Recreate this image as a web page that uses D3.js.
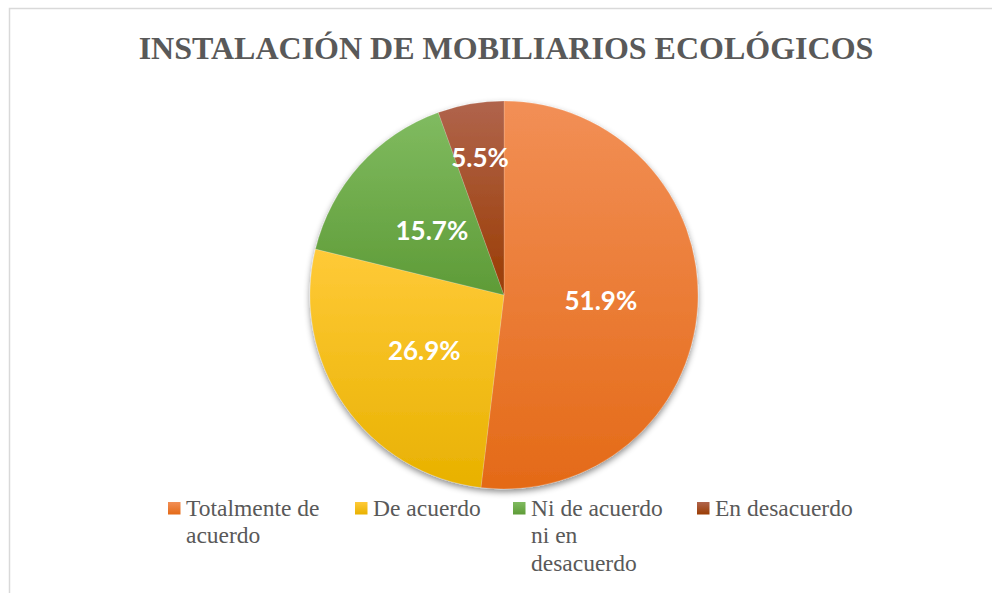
<!DOCTYPE html>
<html>
<head>
<meta charset="utf-8">
<script src="https://cdn.jsdelivr.net/npm/d3@7"></script>
<style>
  body { margin: 0; background: #fff; }
</style>
</head>
<body>
<svg id="chart" width="992" height="593"></svg>
<script>
let categories = ["Totalmente de acuerdo", "De acuerdo", "Ni de acuerdo ni en desacuerdo", "En desacuerdo"]
let values = [51.9, 26.9, 15.7, 5.5]
let legendLines = [["Totalmente de", "acuerdo"], ["De acuerdo"], ["Ni de acuerdo", "ni en", "desacuerdo"], ["En desacuerdo"]]
let colorsTop = ["#f28f56", "#ffca38", "#80bb60", "#b0644c"]
let colorsBottom = ["#e46a17", "#e8b100", "#5e9b37", "#9a3c03"]

let serifFont = "Liberation Serif"
let sansFont = "Lato"

let svg = d3.select("#chart")
let cx = 504, cy = 295, radius = 194

// chart frame
svg.append("rect")
  .attr("x", 9.5).attr("y", 8.5)
  .attr("width", 1000).attr("height", 1000)
  .attr("fill", "#fff")
  .attr("stroke", "#d9d9d9")
  .attr("stroke-width", 1.5)

let defs = svg.append("defs")

colorsTop.forEach((c, i) => {
  let g = defs.append("linearGradient")
    .attr("id", "grad" + i)
    .attr("x1", 0).attr("y1", 0).attr("x2", 0).attr("y2", 1)
  g.append("stop").attr("offset", "0%").attr("stop-color", c)
  g.append("stop").attr("offset", "100%").attr("stop-color", colorsBottom[i])
})

let shadow = defs.append("filter")
  .attr("id", "shadow")
  .attr("x", "-20%").attr("y", "-20%").attr("width", "140%").attr("height", "140%")
shadow.append("feDropShadow")
  .attr("dx", 0).attr("dy", 3)
  .attr("stdDeviation", 3)
  .attr("flood-color", "#000")
  .attr("flood-opacity", 0.45)

// title
svg.append("text")
  .style("font-family", serifFont)
  .attr("x", 506).attr("y", 59)
  .attr("text-anchor", "middle")
  .attr("font-weight", "bold")
  .attr("font-size", 32)
  .attr("fill", "#595959")
  .text("INSTALACIÓN DE MOBILIARIOS ECOLÓGICOS")

let pie = d3.pie().sort(null).value(d => d)
let arc = d3.arc().innerRadius(0).outerRadius(radius)

let pieG = svg.append("g")
  .attr("transform", `translate(${cx},${cy})`)

let arcs = pie(values)

let sliceG = pieG.append("g").attr("filter", "url(#shadow)")

sliceG.selectAll("path.slice")
  .data(arcs)
  .enter()
  .append("path")
  .attr("class", "slice")
  .attr("d", arc)
  .attr("fill", (d, i) => "url(#grad" + i + ")")
  .attr("stroke", "rgba(255,255,255,0.25)")
  .attr("stroke-width", 0.7)

// small slices get their label pushed outwards (best fit)
let labelRadius = d => (d.endAngle - d.startAngle) < 0.5 ? radius * 0.72 : radius * 0.5

pieG.selectAll("text.label")
  .data(arcs)
  .enter()
  .append("text")
  .attr("class", "label")
  .style("font-family", sansFont)
  .attr("transform", d => {
    let r = labelRadius(d)
    let c = d3.arc().innerRadius(r).outerRadius(r).centroid(d)
    return `translate(${c[0]},${c[1]})`
  })
  .attr("text-anchor", "middle")
  .attr("dy", "0.36em")
  .attr("font-weight", "bold")
  .attr("font-size", 26)
  .attr("fill", "#fff")
  .text(d => d.data.toFixed(1) + "%")

// legend
let legendX = [168, 355, 513, 697]
let legend = svg.append("g")

let items = legend.selectAll("g.item")
  .data(categories)
  .enter()
  .append("g")
  .attr("class", "item")
  .attr("transform", (d, i) => `translate(${legendX[i]},502)`)

items.append("rect")
  .attr("width", 12.5).attr("height", 12.5)
  .attr("fill", (d, i) => "url(#grad" + i + ")")

items.append("text")
  .style("font-family", serifFont)
  .attr("font-size", 23.5)
  .attr("fill", "#595959")
  .selectAll("tspan")
  .data((d, i) => legendLines[i])
  .enter()
  .append("tspan")
  .attr("x", 18)
  .attr("y", (d, j) => 14 + j * 27.3)
  .text(d => d)
</script>
</body>
</html>
